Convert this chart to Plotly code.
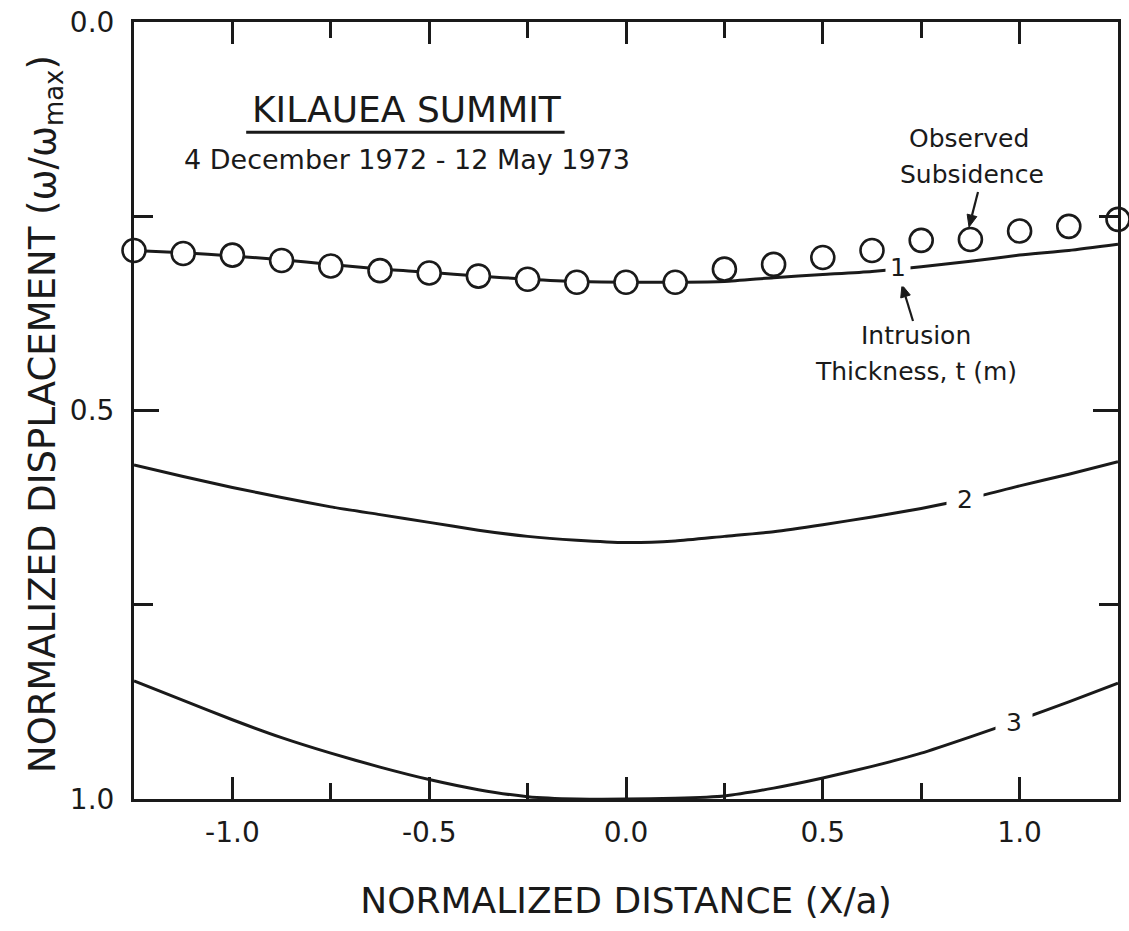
import plotly.graph_objects as go

# ---- data ----
X_POS = [-1.25, -1.125, -1.0, -0.875, -0.75, -0.625, -0.5, -0.375, -0.25, -0.125,
         0.0, 0.125, 0.25, 0.375, 0.5, 0.625, 0.75, 0.875, 1.0, 1.125, 1.25]

OBSERVED = [0.294, 0.298, 0.300, 0.307, 0.314, 0.320, 0.323, 0.327, 0.331, 0.335,
            0.335, 0.335, 0.318, 0.312, 0.303, 0.294, 0.281, 0.280, 0.269, 0.263, 0.254]

CURVE_T1 = [0.294, 0.297, 0.301, 0.306, 0.312, 0.318, 0.322, 0.327, 0.331, 0.334,
            0.335, 0.335, 0.334, 0.329, 0.325, 0.321, 0.315, 0.308, 0.300, 0.294, 0.286]

CURVE_T2 = [0.570, 0.585, 0.599, 0.612, 0.624, 0.634, 0.644, 0.654, 0.662, 0.667,
            0.670, 0.668, 0.662, 0.656, 0.647, 0.637, 0.626, 0.613, 0.597, 0.582, 0.566]

CURVE_T3 = [0.848, 0.873, 0.898, 0.921, 0.941, 0.959, 0.975, 0.988, 0.997, 1.000,
            1.000, 0.999, 0.996, 0.986, 0.973, 0.958, 0.941, 0.920, 0.898, 0.875, 0.851]

CURVE_LABELS = ["1", "2", "3"]

X_TICK_VALS = [-1.0, -0.5, 0.0, 0.5, 1.0]
X_TICK_TEXT = ["-1.0", "-0.5", "0.0", "0.5", "1.0"]
Y_TICK_VALS = [0.0, 0.5, 1.0]
Y_TICK_TEXT = ["0.0", "0.5", "1.0"]

TITLE = "KILAUEA SUMMIT"
SUBTITLE = "4 December 1972 - 12 May 1973"
OBS_LINES = ["Observed", "Subsidence"]
THICK_LINES = ["Intrusion", "Thickness, t (m)"]
X_TITLE = "NORMALIZED DISTANCE (X/a)"
Y_TITLE = "NORMALIZED DISPLACEMENT (ω/ω<sub>max</sub>)"

FONT = "DejaVu Sans"
INK = "#1a1a1a"

W, H = 1129, 931
ML, MR, MT, MB = 134, 11, 22, 132
X_RANGE = [-1.25, 1.25]
Y_RANGE = [1.0, 0.0]


def px2x(px):
    return X_RANGE[0] + (px - ML) / (W - ML - MR) * (X_RANGE[1] - X_RANGE[0])


def px2y(py):
    return (py - MT) / (H - MT - MB)


fig = go.Figure()

for ys in (CURVE_T1, CURVE_T2, CURVE_T3):
    fig.add_trace(go.Scatter(
        x=X_POS, y=ys, mode="lines",
        line=dict(color=INK, width=3, shape="spline", smoothing=0.6),
        hoverinfo="skip", showlegend=False))

fig.add_trace(go.Scatter(
    x=X_POS, y=OBSERVED, mode="markers",
    marker=dict(symbol="circle", size=23, color="white",
                line=dict(color=INK, width=2.6)),
    cliponaxis=False, showlegend=False))

# curve labels (white box breaks the line)
label_pos = [(0.690, 0.316, 4), (0.861, 0.615, 10), (0.987, 0.902, 10)]
for txt, (lx, ly, pad) in zip(CURVE_LABELS, label_pos):
    fig.add_annotation(x=lx, y=ly, text=txt, showarrow=False,
                       font=dict(family=FONT, size=25, color=INK),
                       bgcolor="white", borderpad=pad)

fig.add_annotation(x=-0.556, y=0.112, text=TITLE, showarrow=False,
                   font=dict(family=FONT, size=36, color=INK))
fig.add_shape(type="line", x0=-0.965, x1=-0.156, y0=0.142, y1=0.142,
              line=dict(color=INK, width=3))
fig.add_annotation(x=-0.556, y=0.177, text=SUBTITLE, showarrow=False,
                   font=dict(family=FONT, size=27, color=INK))

note_font = dict(family=FONT, size=25, color=INK)
fig.add_annotation(x=0.872, y=0.150, text=OBS_LINES[0], showarrow=False, font=note_font)
fig.add_annotation(x=0.879, y=0.196, text=OBS_LINES[1], showarrow=False, font=note_font)
fig.add_annotation(x=0.736, y=0.404, text=THICK_LINES[0], showarrow=False, font=note_font)
fig.add_annotation(x=0.737, y=0.450, text=THICK_LINES[1], showarrow=False, font=note_font)


# pointer arrows (tail pixel -> head pixel), drawn as line + filled head
def add_pointer(tail, head, head_len=12, half_w=5):
    tx, ty = tail
    hx, hy = head
    dx, dy = hx - tx, hy - ty
    n = (dx * dx + dy * dy) ** 0.5
    ux, uy = dx / n, dy / n
    bx, by = hx - head_len * ux, hy - head_len * uy
    px_, py_ = -uy, ux
    fig.add_shape(type="line", x0=px2x(tx), y0=px2y(ty), x1=px2x(bx), y1=px2y(by),
                  line=dict(color=INK, width=2.2))
    c1 = (bx + half_w * px_, by + half_w * py_)
    c2 = (bx - half_w * px_, by - half_w * py_)
    path = (f"M {px2x(hx)},{px2y(hy)} L {px2x(c1[0])},{px2y(c1[1])} "
            f"L {px2x(c2[0])},{px2y(c2[1])} Z")
    fig.add_shape(type="path", path=path, fillcolor=INK, line=dict(color=INK, width=1))


add_pointer((978, 192), (969, 227))
add_pointer((913, 321), (902, 285))

# y axis title (placed as rotated annotation)
fig.add_annotation(xref="paper", yref="paper", x=-0.0904, y=0.4955, text=Y_TITLE,
                   showarrow=False, textangle=-90, xanchor="center", yanchor="middle",
                   font=dict(family=FONT, size=37, color=INK))

axis_common = dict(showline=True, linecolor=INK, linewidth=3, mirror="ticks",
                   ticks="inside", tickwidth=3, tickcolor=INK, showgrid=False,
                   zeroline=False, automargin=False, ticklabeloverflow="allow",
                   tickfont=dict(family=FONT, size=28, color=INK))

fig.update_xaxes(range=X_RANGE, tickvals=X_TICK_VALS, ticktext=X_TICK_TEXT,
                 ticklen=22, ticklabelstandoff=6,
                 minor=dict(tickvals=[-0.75, -0.25, 0.25, 0.75], ticklen=16,
                            tickwidth=3, tickcolor=INK, ticks="inside"),
                 title=dict(text=X_TITLE, standoff=41,
                            font=dict(family=FONT, size=36, color=INK)),
                 **axis_common)
fig.update_yaxes(range=Y_RANGE, tickvals=Y_TICK_VALS, ticktext=Y_TICK_TEXT,
                 ticklen=25, ticklabelstandoff=11,
                 minor=dict(tickvals=[0.25, 0.75], ticklen=19,
                            tickwidth=3, tickcolor=INK, ticks="inside"),
                 **axis_common)

fig.update_layout(width=W, height=H, plot_bgcolor="white", paper_bgcolor="white",
                  margin=dict(l=ML, r=MR, t=MT, b=MB), showlegend=False)

# remove the browser's default 8px body margin so the figure fills the window exactly
fig.write_html("out.html", config={"displayModeBar": False},
               post_script="document.body.style.margin='0px';")
